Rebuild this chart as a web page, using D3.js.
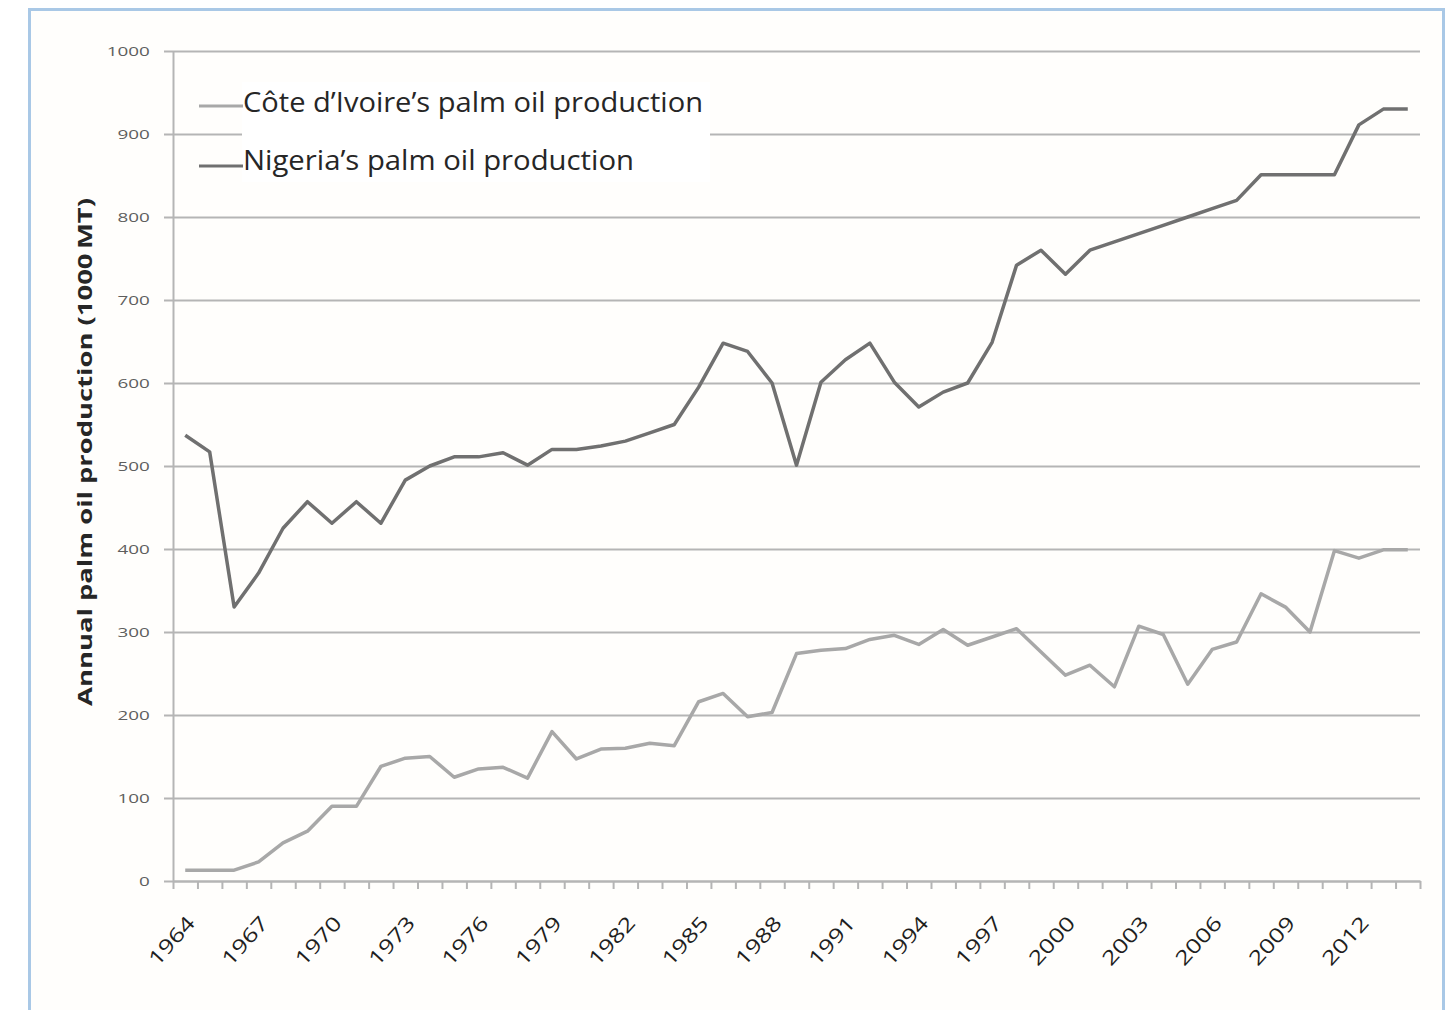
<!DOCTYPE html>
<html>
<head>
<meta charset="utf-8">
<script src="https://cdn.jsdelivr.net/npm/d3@7"></script>
<style>
  body { margin: 0; background: #ffffff; }
  svg { display: block; }
</style>
</head>
<body>
<div id="chart"></div>
<script>
// categories
const years = [1964, 1965, 1966, 1967, 1968, 1969, 1970, 1971, 1972, 1973,
  1974, 1975, 1976, 1977, 1978, 1979, 1980, 1981, 1982, 1983,
  1984, 1985, 1986, 1987, 1988, 1989, 1990, 1991, 1992, 1993,
  1994, 1995, 1996, 1997, 1998, 1999, 2000, 2001, 2002, 2003,
  2004, 2005, 2006, 2007, 2008, 2009, 2010, 2011, 2012, 2013, 2014];

// series (1000 MT)
const coteDIvoire = [13, 13, 13, 23, 46, 60, 90, 90, 138, 148,
  150, 125, 135, 137, 124, 180, 147, 159, 160, 166,
  163, 216, 226, 198, 203, 274, 278, 280, 291, 296,
  285, 303, 284, 294, 304, 276, 248, 260, 234, 307,
  297, 237, 279, 288, 346, 330, 300, 398, 389, 399, 399];

const nigeria = [537, 517, 330, 371, 425, 457, 431, 457, 431, 483,
  500, 511, 511, 516, 501, 520, 520, 524, 530, 540,
  550, 595, 648, 638, 600, 501, 601, 628, 648, 601,
  571, 589, 600, 649, 742, 760, 731, 760, 770, 780,
  790, 800, 810, 820, 851, 851, 851, 851, 911, 930, 930];

// tick labels
const yTicks = [0, 100, 200, 300, 400, 500, 600, 700, 800, 900, 1000];
const xLabelYears = [1964, 1967, 1970, 1973, 1976, 1979, 1982, 1985, 1988,
  1991, 1994, 1997, 2000, 2003, 2006, 2009, 2012];

const seriesNames = ['Côte d\u2019Ivoire\u2019s palm oil production', 'Nigeria\u2019s palm oil production'];
const yTitle = 'Annual palm oil production (1000\u2009MT)';

const W = 1449, H = 1010;
const margin = { top: 51, right: 29, bottom: 129, left: 173 };
const width = W - margin.left - margin.right;
const height = H - margin.top - margin.bottom;

const gridColor = '#b5b5b5';
const labelColor = '#5e5e5e';

const svg = d3.select('#chart')
  .append('svg')
  .attr('width', W)
  .attr('height', H);

// outer frame
svg.append('rect')
  .attr('x', 29.5)
  .attr('y', 9.5)
  .attr('width', 1414)
  .attr('height', 1010)
  .attr('fill', '#fffefc')
  .attr('stroke', '#a9c8e6')
  .attr('stroke-width', 3);

const g = svg.append('g')
  .attr('transform', `translate(${margin.left},${margin.top})`);

const x = d3.scaleBand()
  .domain(years)
  .range([0, width])
  .padding(0);

const xEdges = d3.scaleLinear()
  .domain([0, years.length])
  .range([0, width]);

const y = d3.scaleLinear()
  .domain([0, 1000])
  .range([height, 0]);

// horizontal gridlines
g.append('g')
  .attr('class', 'grid')
  .call(d3.axisLeft(y).tickValues(yTicks.slice(1)).tickSize(-width).tickFormat(''))
  .call(s => s.select('.domain').remove())
  .selectAll('.tick line')
  .attr('stroke', gridColor)
  .attr('stroke-width', 2);

// y axis with short outward ticks
const yAxisG = g.append('g')
  .attr('class', 'yAxis')
  .call(d3.axisLeft(y).tickValues(yTicks).tickSizeInner(9).tickSizeOuter(0).tickFormat(d3.format('d')));
yAxisG.select('.domain').attr('stroke', gridColor).attr('stroke-width', 2);
yAxisG.selectAll('.tick line').attr('stroke', gridColor).attr('stroke-width', 2);
yAxisG.selectAll('.tick text')
  .attr('fill', labelColor)
  .style('font-family', '"Open Sans", sans-serif')
  .style('font-size', '13px')
  .attr('transform', 'scale(1.45,1)')
  .attr('x', -16);

// x axis: tick marks on category boundaries
const xTickG = g.append('g')
  .attr('class', 'xTicks')
  .attr('transform', `translate(0,${height})`)
  .call(d3.axisBottom(xEdges).tickValues(d3.range(years.length + 1)).tickSizeInner(8).tickSizeOuter(0).tickFormat(''));
xTickG.select('.domain').attr('stroke', gridColor).attr('stroke-width', 2.5);
xTickG.selectAll('.tick line').attr('stroke', gridColor).attr('stroke-width', 2);

// x axis labels every third year
const xLabelG = g.append('g')
  .attr('class', 'xLabels')
  .attr('transform', `translate(0,${height})`)
  .call(d3.axisBottom(x).tickValues(xLabelYears).tickSize(0).tickFormat(d3.format('d')));
xLabelG.select('.domain').remove();
xLabelG.selectAll('.tick text')
  .attr('fill', '#1e1e1e')
  .style('font-family', '"Open Sans", sans-serif')
  .style('font-size', '20px')
  .attr('text-anchor', 'end')
  .attr('dy', null)
  .attr('y', 0)
  .attr('textLength', 58)
  .attr('lengthAdjust', 'spacingAndGlyphs')
  .attr('transform', 'translate(11,43) rotate(-48)');

// lines
const line = d3.line()
  .x((d, i) => x(years[i]) + x.bandwidth() / 2)
  .y(d => y(d));

g.append('path')
  .datum(coteDIvoire)
  .attr('fill', 'none')
  .attr('stroke', '#a8a8a8')
  .attr('stroke-width', 3.5)
  .attr('stroke-linejoin', 'round')
  .attr('d', line);

g.append('path')
  .datum(nigeria)
  .attr('fill', 'none')
  .attr('stroke', '#707070')
  .attr('stroke-width', 3.5)
  .attr('stroke-linejoin', 'round')
  .attr('d', line);

// y axis title
svg.append('text')
  .attr('transform', 'translate(92,452) rotate(-90)')
  .attr('text-anchor', 'middle')
  .style('font-family', '"Open Sans", sans-serif')
  .style('font-size', '20px')
  .style('font-weight', '700')
  .attr('fill', '#262626')
  .attr('textLength', 508)
  .attr('lengthAdjust', 'spacingAndGlyphs')
  .text(yTitle);

// legend
svg.append('rect')
  .attr('x', 242)
  .attr('y', 82)
  .attr('width', 468)
  .attr('height', 100)
  .attr('fill', '#ffffff');

const legend = svg.append('g').attr('class', 'legend');
const legendColors = ['#a8a8a8', '#707070'];
const legendRows = [{ lineY: 106, textY: 112 }, { lineY: 166, textY: 170 }];
seriesNames.forEach((name, i) => {
  legend.append('line')
    .attr('x1', 199)
    .attr('x2', 243)
    .attr('y1', legendRows[i].lineY)
    .attr('y2', legendRows[i].lineY)
    .attr('stroke', legendColors[i])
    .attr('stroke-width', 3);
  legend.append('text')
    .attr('x', 243)
    .attr('y', legendRows[i].textY)
    .style('font-family', '"Open Sans", sans-serif')
    .style('font-size', '28px')
    .attr('fill', '#262626')
    .attr('textLength', i === 0 ? 460 : 391)
    .attr('lengthAdjust', 'spacingAndGlyphs')
    .text(name);
});
</script>
</body>
</html>
